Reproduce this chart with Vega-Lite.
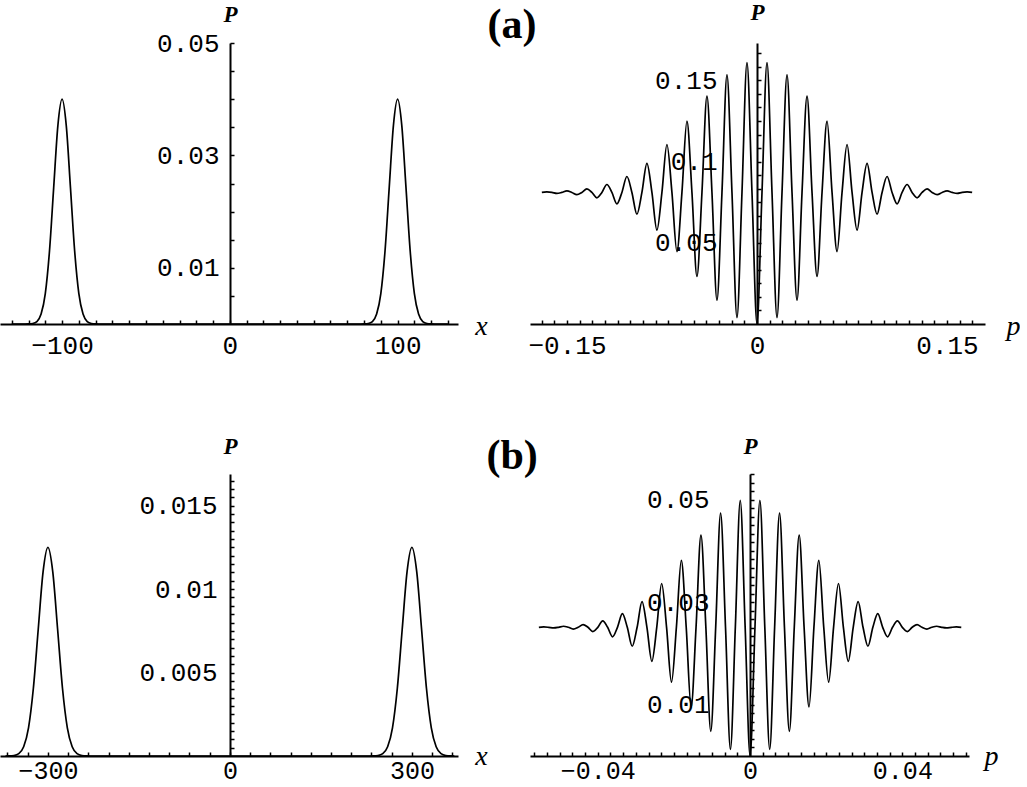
{
  "$schema": "https://vega.github.io/schema/vega-lite/v6.json",
  "padding": {"left": 0, "top": 1, "right": 0, "bottom": 0},
  "autosize": {"type": "pad"},
  "background": "white",
  "bounds": "flush",
  "columns": 2,
  "spacing": {"row": 150, "column": 72},
  "config": {
    "view": {"stroke": null},
    "axis": {
      "grid": false, "domainColor": "black", "domainWidth": 2,
      "tickColor": "black", "tickWidth": 1.5, "tickSize": -4,
      "labelFont": "Liberation Mono", "labelFontSize": 26, "labelColor": "black",
      "labelOverlap": false, "labelFlush": false, "labelBound": false,
      "titleColor": "black", "titleFont": "Liberation Serif", "titleFontStyle": "italic",
      "titleAngle": 0, "titleAlign": "center", "titleBaseline": "alphabetic"
    },
    "axisX": {"labelPadding": 12, "titleFontSize": 28, "titleFontWeight": "normal"},
    "axisY": {"titleFontSize": 23, "titleFontWeight": "bold", "titleX": 0}
  },
  "datasets": {
    "tl": [
      {"x": -130, "P": 0}, {"x": -122, "P": 0}, {"x": -120, "P": 0.0000134}, {"x": -117.5, "P": 0.0000875},
      {"x": -115, "P": 0.00044}, {"x": -112.5, "P": 0.00176}, {"x": -110, "P": 0.00541}, {"x": -107.5, "P": 0.01299},
      {"x": -105, "P": 0.02426}, {"x": -102.5, "P": 0.0353}, {"x": -100, "P": 0.04}, {"x": -97.5, "P": 0.0353},
      {"x": -95, "P": 0.02426}, {"x": -92.5, "P": 0.01299}, {"x": -90, "P": 0.00541}, {"x": -87.5, "P": 0.00176},
      {"x": -85, "P": 0.00044}, {"x": -82.5, "P": 0.0000875}, {"x": -80, "P": 0.0000134}, {"x": -78, "P": 0},
      {"x": 78, "P": 0}, {"x": 80, "P": 0.0000134}, {"x": 82.5, "P": 0.0000875}, {"x": 85, "P": 0.00044},
      {"x": 87.5, "P": 0.00176}, {"x": 90, "P": 0.00541}, {"x": 92.5, "P": 0.01299}, {"x": 95, "P": 0.02426},
      {"x": 97.5, "P": 0.0353}, {"x": 100, "P": 0.04}, {"x": 102.5, "P": 0.0353}, {"x": 105, "P": 0.02426},
      {"x": 107.5, "P": 0.01299}, {"x": 110, "P": 0.00541}, {"x": 112.5, "P": 0.00176}, {"x": 115, "P": 0.00044},
      {"x": 117.5, "P": 0.0000875}, {"x": 120, "P": 0.0000134}, {"x": 122, "P": 0}, {"x": 130, "P": 0}
    ],
    "bl": [
      {"x": -370, "P": 0}, {"x": -364, "P": 0.000004}, {"x": -356, "P": 0.000027}, {"x": -348, "P": 0.00014},
      {"x": -340, "P": 0.00055}, {"x": -332, "P": 0.00169}, {"x": -324, "P": 0.00406}, {"x": -316, "P": 0.00758},
      {"x": -308, "P": 0.01103}, {"x": -300, "P": 0.0125}, {"x": -292, "P": 0.01103}, {"x": -284, "P": 0.00758},
      {"x": -276, "P": 0.00406}, {"x": -268, "P": 0.00169}, {"x": -260, "P": 0.00055}, {"x": -252, "P": 0.00014},
      {"x": -244, "P": 0.000027}, {"x": -236, "P": 0.000004}, {"x": -230, "P": 0},
      {"x": 230, "P": 0}, {"x": 236, "P": 0.000004}, {"x": 244, "P": 0.000027}, {"x": 252, "P": 0.00014},
      {"x": 260, "P": 0.00055}, {"x": 268, "P": 0.00169}, {"x": 276, "P": 0.00406}, {"x": 284, "P": 0.00758},
      {"x": 292, "P": 0.01103}, {"x": 300, "P": 0.0125}, {"x": 308, "P": 0.01103}, {"x": 316, "P": 0.00758},
      {"x": 324, "P": 0.00406}, {"x": 332, "P": 0.00169}, {"x": 340, "P": 0.00055}, {"x": 348, "P": 0.00014},
      {"x": 356, "P": 0.000027}, {"x": 364, "P": 0.000004}, {"x": 370, "P": 0}
    ],
    "tr": [
      {"x": -0.16985, "P": 0.081}, {"x": -0.1659, "P": 0.0813}, {"x": -0.16195, "P": 0.081}, {"x": -0.158, "P": 0.0804},
      {"x": -0.15405, "P": 0.081}, {"x": -0.1501, "P": 0.0819}, {"x": -0.14615, "P": 0.081}, {"x": -0.1422, "P": 0.0796},
      {"x": -0.13825, "P": 0.081}, {"x": -0.1343, "P": 0.0832}, {"x": -0.13035, "P": 0.081}, {"x": -0.1264, "P": 0.0777},
      {"x": -0.12245, "P": 0.081}, {"x": -0.1185, "P": 0.0859}, {"x": -0.11455, "P": 0.081}, {"x": -0.1106, "P": 0.074},
      {"x": -0.10665, "P": 0.081}, {"x": -0.1027, "P": 0.0908}, {"x": -0.09875, "P": 0.081}, {"x": -0.0948, "P": 0.0676},
      {"x": -0.09085, "P": 0.081}, {"x": -0.0869, "P": 0.0989}, {"x": -0.08295, "P": 0.081}, {"x": -0.079, "P": 0.0578},
      {"x": -0.07505, "P": 0.081}, {"x": -0.0711, "P": 0.1105}, {"x": -0.06715, "P": 0.081}, {"x": -0.0632, "P": 0.0446},
      {"x": -0.05925, "P": 0.081}, {"x": -0.0553, "P": 0.1249}, {"x": -0.05135, "P": 0.081}, {"x": -0.0474, "P": 0.0293},
      {"x": -0.04345, "P": 0.081}, {"x": -0.0395, "P": 0.1403}, {"x": -0.03555, "P": 0.081}, {"x": -0.0316, "P": 0.0147},
      {"x": -0.02765, "P": 0.081}, {"x": -0.0237, "P": 0.1534}, {"x": -0.01975, "P": 0.081}, {"x": -0.0158, "P": 0.0039},
      {"x": -0.01185, "P": 0.081}, {"x": -0.0079, "P": 0.161}, {"x": -0.00395, "P": 0.081}, {"x": 0, "P": 0},
      {"x": 0.00395, "P": 0.081}, {"x": 0.0079, "P": 0.161}, {"x": 0.01185, "P": 0.081}, {"x": 0.0158, "P": 0.0039},
      {"x": 0.01975, "P": 0.081}, {"x": 0.0237, "P": 0.1534}, {"x": 0.02765, "P": 0.081}, {"x": 0.0316, "P": 0.0147},
      {"x": 0.03555, "P": 0.081}, {"x": 0.0395, "P": 0.1403}, {"x": 0.04345, "P": 0.081}, {"x": 0.0474, "P": 0.0293},
      {"x": 0.05135, "P": 0.081}, {"x": 0.0553, "P": 0.1249}, {"x": 0.05925, "P": 0.081}, {"x": 0.0632, "P": 0.0446},
      {"x": 0.06715, "P": 0.081}, {"x": 0.0711, "P": 0.1105}, {"x": 0.07505, "P": 0.081}, {"x": 0.079, "P": 0.0578},
      {"x": 0.08295, "P": 0.081}, {"x": 0.0869, "P": 0.0989}, {"x": 0.09085, "P": 0.081}, {"x": 0.0948, "P": 0.0676},
      {"x": 0.09875, "P": 0.081}, {"x": 0.1027, "P": 0.0908}, {"x": 0.10665, "P": 0.081}, {"x": 0.1106, "P": 0.074},
      {"x": 0.11455, "P": 0.081}, {"x": 0.1185, "P": 0.0859}, {"x": 0.12245, "P": 0.081}, {"x": 0.1264, "P": 0.0777},
      {"x": 0.13035, "P": 0.081}, {"x": 0.1343, "P": 0.0832}, {"x": 0.13825, "P": 0.081}, {"x": 0.1422, "P": 0.0796},
      {"x": 0.14615, "P": 0.081}, {"x": 0.1501, "P": 0.0819}, {"x": 0.15405, "P": 0.081}, {"x": 0.158, "P": 0.0804},
      {"x": 0.16195, "P": 0.081}, {"x": 0.1659, "P": 0.0813}, {"x": 0.16985, "P": 0.081}
    ],
    "br": [
      {"x": -0.05547, "P": 0.0251}, {"x": -0.05418, "P": 0.02517}, {"x": -0.05289, "P": 0.0251}, {"x": -0.0516, "P": 0.02498},
      {"x": -0.05031, "P": 0.0251}, {"x": -0.04902, "P": 0.02531}, {"x": -0.04773, "P": 0.0251}, {"x": -0.04644, "P": 0.02476},
      {"x": -0.04515, "P": 0.0251}, {"x": -0.04386, "P": 0.02564}, {"x": -0.04257, "P": 0.0251}, {"x": -0.04128, "P": 0.02427},
      {"x": -0.03999, "P": 0.0251}, {"x": -0.0387, "P": 0.02636}, {"x": -0.03741, "P": 0.0251}, {"x": -0.03612, "P": 0.02325},
      {"x": -0.03483, "P": 0.0251}, {"x": -0.03354, "P": 0.02775}, {"x": -0.03225, "P": 0.0251}, {"x": -0.03096, "P": 0.02141},
      {"x": -0.02967, "P": 0.0251}, {"x": -0.02838, "P": 0.03011}, {"x": -0.02709, "P": 0.0251}, {"x": -0.0258, "P": 0.01847},
      {"x": -0.02451, "P": 0.0251}, {"x": -0.02322, "P": 0.03364}, {"x": -0.02193, "P": 0.0251}, {"x": -0.02064, "P": 0.01439},
      {"x": -0.01935, "P": 0.0251}, {"x": -0.01806, "P": 0.03817}, {"x": -0.01677, "P": 0.0251}, {"x": -0.01548, "P": 0.00956},
      {"x": -0.01419, "P": 0.0251}, {"x": -0.0129, "P": 0.04309}, {"x": -0.01161, "P": 0.0251}, {"x": -0.01032, "P": 0.00481},
      {"x": -0.00903, "P": 0.0251}, {"x": -0.00774, "P": 0.04737}, {"x": -0.00645, "P": 0.0251}, {"x": -0.00516, "P": 0.0013},
      {"x": -0.00387, "P": 0.0251}, {"x": -0.00258, "P": 0.04987}, {"x": -0.00129, "P": 0.0251}, {"x": 0, "P": 0},
      {"x": 0.00129, "P": 0.0251}, {"x": 0.00258, "P": 0.04987}, {"x": 0.00387, "P": 0.0251}, {"x": 0.00516, "P": 0.0013},
      {"x": 0.00645, "P": 0.0251}, {"x": 0.00774, "P": 0.04737}, {"x": 0.00903, "P": 0.0251}, {"x": 0.01032, "P": 0.00481},
      {"x": 0.01161, "P": 0.0251}, {"x": 0.0129, "P": 0.04309}, {"x": 0.01419, "P": 0.0251}, {"x": 0.01548, "P": 0.00956},
      {"x": 0.01677, "P": 0.0251}, {"x": 0.01806, "P": 0.03817}, {"x": 0.01935, "P": 0.0251}, {"x": 0.02064, "P": 0.01439},
      {"x": 0.02193, "P": 0.0251}, {"x": 0.02322, "P": 0.03364}, {"x": 0.02451, "P": 0.0251}, {"x": 0.0258, "P": 0.01847},
      {"x": 0.02709, "P": 0.0251}, {"x": 0.02838, "P": 0.03011}, {"x": 0.02967, "P": 0.0251}, {"x": 0.03096, "P": 0.02141},
      {"x": 0.03225, "P": 0.0251}, {"x": 0.03354, "P": 0.02775}, {"x": 0.03483, "P": 0.0251}, {"x": 0.03612, "P": 0.02325},
      {"x": 0.03741, "P": 0.0251}, {"x": 0.0387, "P": 0.02636}, {"x": 0.03999, "P": 0.0251}, {"x": 0.04128, "P": 0.02427},
      {"x": 0.04257, "P": 0.0251}, {"x": 0.04386, "P": 0.02564}, {"x": 0.04515, "P": 0.0251}, {"x": 0.04644, "P": 0.02476},
      {"x": 0.04773, "P": 0.0251}, {"x": 0.04902, "P": 0.02531}, {"x": 0.05031, "P": 0.0251}, {"x": 0.0516, "P": 0.02498},
      {"x": 0.05289, "P": 0.0251}, {"x": 0.05418, "P": 0.02517}, {"x": 0.05547, "P": 0.0251}
    ]
  },
  "concat": [
    {
      "width": 458, "height": 281,
      "data": {"name": "tl"},
      "mark": {"type": "line", "interpolate": "monotone", "color": "black", "strokeWidth": 1.7},
      "encoding": {
        "x": {"field": "x", "type": "quantitative", "scale": {"domain": [-137, 136]},
          "axis": {"title": "x", "titleX": 481, "titleY": 10,
            "values": [-130,-120,-110,-100,-90,-80,-70,-60,-50,-40,-30,-20,-10,0,10,20,30,40,50,60,70,80,90,100,110,120,130],
            "labelExpr": "datum.value == -100 ? '−100' : datum.value == 0 ? '0' : datum.value == 100 ? '100' : ''"}},
        "y": {"field": "P", "type": "quantitative", "scale": {"domain": [0, 0.05]},
          "axis": {"title": "P", "titleY": -22, "offset": -230, "labelPadding": 15,
            "values": [0.005,0.01,0.015,0.02,0.025,0.03,0.035,0.04,0.045,0.05],
            "labelExpr": "datum.value == 0.01 ? '0.01' : datum.value == 0.03 ? '0.03' : datum.value == 0.05 ? '0.05' : ''"}}
      }
    },
    {
      "width": 455, "height": 281,
      "resolve": {"scale": {"x": "independent", "y": "independent"}},
      "layer": [
        {
          "data": {"name": "tr"},
          "mark": {"type": "line", "interpolate": "monotone", "color": "black", "strokeWidth": 1.7},
          "encoding": {
            "x": {"field": "x", "type": "quantitative", "scale": {"domain": [-0.1792, 0.18]},
              "axis": {"title": "p", "titleX": 483, "titleY": 10,
                "values": [-0.17,-0.16,-0.15,-0.14,-0.13,-0.12,-0.11,-0.1,-0.09,-0.08,-0.07,-0.06,-0.05,-0.04,-0.03,-0.02,-0.01,0,0.01,0.02,0.03,0.04,0.05,0.06,0.07,0.08,0.09,0.1,0.11,0.12,0.13,0.14,0.15,0.16,0.17],
                "labelExpr": "datum.value == -0.15 ? '−0.15' : datum.value == 0 ? '0' : datum.value == 0.15 ? '0.15' : ''"}},
            "y": {"field": "P", "type": "quantitative", "scale": {"domain": [0, 0.173]},
              "axis": {"title": "P", "titleY": -24, "offset": -227, "labelPadding": 44,
                "values": [0.008333,0.016667,0.025,0.033333,0.041667,0.05,0.058333,0.066667,0.075,0.083333,0.091667,0.1,0.108333,0.116667,0.125,0.133333,0.141667,0.15,0.158333,0.166667],
                "labelExpr": "datum.value == 0.05 ? '0.05' : datum.value == 0.1 ? '0.1' : datum.value == 0.15 ? '0.15' : ''"}}
          }
        },
        {
          "data": {"values": [{"label": "(a)", "x": -0.1934, "P": 0.1761}]},
          "mark": {"type": "text", "font": "Liberation Serif", "fontSize": 42, "fontWeight": "bold", "align": "center", "baseline": "alphabetic", "color": "black"},
          "encoding": {
            "text": {"field": "label"},
            "x": {"field": "x", "type": "quantitative", "scale": {"domain": [-0.1792, 0.18]}, "axis": null},
            "y": {"field": "P", "type": "quantitative", "scale": {"domain": [0, 0.173]}, "axis": null}
          }
        }
      ]
    },
    {
      "width": 458, "height": 282,
      "data": {"name": "bl"},
      "mark": {"type": "line", "interpolate": "monotone", "color": "black", "strokeWidth": 1.7},
      "encoding": {
        "x": {"field": "x", "type": "quantitative", "scale": {"domain": [-379, 376]},
          "axis": {"title": "x", "titleX": 481, "titleY": 8, "labelPadding": 6, "labelFontSize": 25,
            "values": [-366.6667,-333.3333,-300,-266.6667,-233.3333,-200,-166.6667,-133.3333,-100,-66.6667,-33.3333,0,33.3333,66.6667,100,133.3333,166.6667,200,233.3333,266.6667,300,333.3333,366.6667],
            "labelExpr": "datum.value == -300 ? '−300' : datum.value == 0 ? '0' : datum.value == 300 ? '300' : ''"}},
        "y": {"field": "P", "type": "quantitative", "scale": {"domain": [0, 0.0169]},
          "axis": {"title": "P", "titleY": -21, "offset": -230, "labelPadding": 17,
            "values": [0.0005,0.001,0.0015,0.002,0.0025,0.003,0.0035,0.004,0.0045,0.005,0.0055,0.006,0.0065,0.007,0.0075,0.008,0.0085,0.009,0.0095,0.01,0.0105,0.011,0.0115,0.012,0.0125,0.013,0.0135,0.014,0.0145,0.015,0.0155,0.016,0.0165],
            "labelExpr": "datum.value == 0.005 ? '0.005' : datum.value == 0.01 ? '0.01' : datum.value == 0.015 ? '0.015' : ''"}}
      }
    },
    {
      "width": 439, "height": 282,
      "resolve": {"scale": {"x": "independent", "y": "independent"}},
      "layer": [
        {
          "data": {"name": "br"},
          "mark": {"type": "line", "interpolate": "monotone", "color": "black", "strokeWidth": 1.7},
          "encoding": {
            "x": {"field": "x", "type": "quantitative", "scale": {"domain": [-0.0578, 0.0575]},
              "axis": {"title": "p", "titleX": 461, "titleY": 8, "labelPadding": 6, "labelFontSize": 25,
                "values": [-0.056667,-0.053333,-0.05,-0.046667,-0.043333,-0.04,-0.036667,-0.033333,-0.03,-0.026667,-0.023333,-0.02,-0.016667,-0.013333,-0.01,-0.006667,-0.003333,0,0.003333,0.006667,0.01,0.013333,0.016667,0.02,0.023333,0.026667,0.03,0.033333,0.036667,0.04,0.043333,0.046667,0.05,0.053333,0.056667],
                "labelExpr": "datum.value == -0.04 ? '−0.04' : datum.value == 0 ? '0' : datum.value == 0.04 ? '0.04' : ''"}},
            "y": {"field": "P", "type": "quantitative", "scale": {"domain": [0, 0.055]},
              "axis": {"title": "P", "titleY": -21, "offset": -220, "labelPadding": 45,
                "values": [0.001667,0.003333,0.005,0.006667,0.008333,0.01,0.011667,0.013333,0.015,0.016667,0.018333,0.02,0.021667,0.023333,0.025,0.026667,0.028333,0.03,0.031667,0.033333,0.035,0.036667,0.038333,0.04,0.041667,0.043333,0.045,0.046667,0.048333,0.05,0.051667,0.053333,0.055],
                "labelExpr": "datum.value == 0.01 ? '0.01' : datum.value == 0.03 ? '0.03' : datum.value == 0.05 ? '0.05' : ''"}}
          }
        },
        {
          "data": {"values": [{"label": "(b)", "x": -0.0625, "P": 0.056}]},
          "mark": {"type": "text", "font": "Liberation Serif", "fontSize": 42, "fontWeight": "bold", "align": "center", "baseline": "alphabetic", "color": "black"},
          "encoding": {
            "text": {"field": "label"},
            "x": {"field": "x", "type": "quantitative", "scale": {"domain": [-0.0578, 0.0575]}, "axis": null},
            "y": {"field": "P", "type": "quantitative", "scale": {"domain": [0, 0.055]}, "axis": null}
          }
        }
      ]
    }
  ]
}
